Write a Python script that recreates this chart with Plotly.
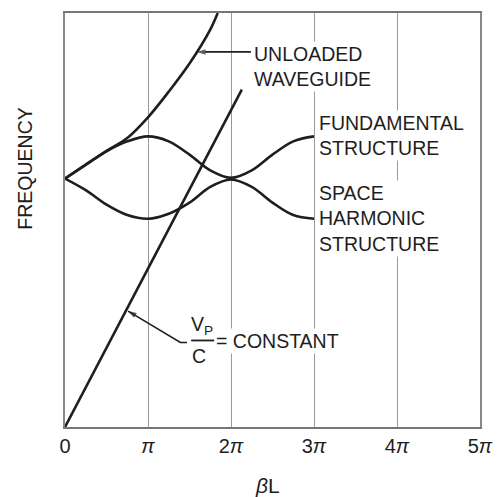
import plotly.graph_objects as go

# ---- data (x in units of pi, y = frequency, arbitrary units) ----
beta_pi = [0, 0.25, 0.5, 0.75, 1.0, 1.25, 1.5, 1.75, 2.0, 2.25, 2.5, 2.75, 3.0]
fund_freq = [6.0, 6.33, 6.66, 6.90, 7.02, 6.90, 6.58, 6.2, 6.02, 6.2, 6.58, 6.90, 7.02]
harm_freq = [6.0, 5.72, 5.37, 5.12, 5.03, 5.15, 5.42, 5.8, 5.98, 5.8, 5.42, 5.12, 5.03]

wg_beta = [0, 0.25, 0.5, 0.75, 1.0, 1.25, 1.5, 1.75, 1.84]
wg_freq = [6.0, 6.34, 6.67, 6.98, 7.48, 8.1, 8.78, 9.6, 10.0]

vp_beta = [0, 2.13]
vp_freq = [0, 8.15]

tick_vals = [0, 1, 2, 3, 4, 5]
tick_text = ["0", "<i>π</i>", "2<i>π</i>", "3<i>π</i>", "4<i>π</i>", "5<i>π</i>"]

# leader lines (label end -> point on curve)
wg_leader_x = [2.24, 1.59]
wg_leader_y = [9.06, 9.06]
vp_leader_x = [1.47, 1.39, 0.76]
vp_leader_y = [2.04, 2.04, 2.80]

FONT = "Liberation Sans, Arial, sans-serif"
INK = "#1e1e1e"
FS = 19.5

fig = go.Figure()
line_style = dict(color=INK, width=2.6)
fig.add_trace(go.Scatter(x=beta_pi, y=fund_freq, mode="lines", line=dict(shape="spline", **line_style), name="Fundamental"))
fig.add_trace(go.Scatter(x=beta_pi, y=harm_freq, mode="lines", line=dict(shape="spline", **line_style), name="Space harmonic"))
fig.add_trace(go.Scatter(x=wg_beta, y=wg_freq, mode="lines", line=dict(shape="spline", **line_style), name="Unloaded waveguide"))
fig.add_trace(go.Scatter(x=vp_beta, y=vp_freq, mode="lines", line=line_style, name="Vp/C"))

# leader lines with arrowheads
for lx, ly in [(wg_leader_x, wg_leader_y), (vp_leader_x, vp_leader_y)]:
    n = len(lx)
    fig.add_trace(go.Scatter(
        x=lx, y=ly, mode="lines+markers",
        line=dict(color=INK, width=1.6),
        marker=dict(symbol="arrow", angleref="previous", size=[0] * (n - 1) + [9], color=INK,
                    line=dict(width=0)),
        hoverinfo="skip",
    ))

ann_font = dict(family=FONT, size=FS, color=INK)
annotations = [
    dict(x=2.25, y=8.71, text="UNLOADED<br>WAVEGUIDE", showarrow=False, xanchor="left", yanchor="middle",
         align="left", font=ann_font, bgcolor="white"),
    dict(x=3.04, y=7.03, text="FUNDAMENTAL<br>STRUCTURE", showarrow=False, xanchor="left", yanchor="middle",
         align="left", font=ann_font, bgcolor="white"),
    dict(x=3.04, y=5.04, text="SPACE<br>HARMONIC<br>STRUCTURE", showarrow=False, xanchor="left", yanchor="middle",
         align="left", font=ann_font, bgcolor="white"),
    dict(x=1.651, y=2.45, text="V<sub>P</sub>", showarrow=False, xanchor="center", yanchor="middle",
         font=ann_font, bgcolor="white", borderpad=0),
    dict(x=1.615, y=1.72, text="C", showarrow=False, xanchor="center", yanchor="middle",
         font=ann_font, bgcolor="white", borderpad=0),
    dict(x=1.80, y=2.08, text="= CONSTANT", showarrow=False, xanchor="left", yanchor="middle",
         font=ann_font, bgcolor="white"),
    # axis titles
    dict(xref="paper", yref="paper", x=-0.095, y=0.623, text="FREQUENCY", textangle=-90, showarrow=False,
         xanchor="center", yanchor="middle", font=ann_font),
    dict(xref="paper", yref="paper", x=0.489, y=-0.142, text="<i>β</i>L", showarrow=False,
         xanchor="center", yanchor="middle", font=dict(family=FONT, size=21, color=INK)),
]

shapes = [
    dict(type="line", xref="x", yref="y", x0=1.52, y0=2.09, x1=1.80, y1=2.09, line=dict(color=INK, width=1.8)),
]

fig.update_layout(
    width=504, height=497,
    margin=dict(l=65, r=18, t=11, b=70),
    paper_bgcolor="white", plot_bgcolor="white",
    showlegend=False,
    font=dict(family=FONT, color=INK),
    annotations=annotations,
    shapes=shapes,
    xaxis=dict(range=[0, 5], tickvals=tick_vals, ticktext=tick_text, showgrid=True,
               gridcolor="#9a9a9a", gridwidth=1.4, zeroline=False, showline=True, linecolor="#777777",
               linewidth=1.8, mirror=True, ticks="", tickfont=dict(family=FONT, size=20, color=INK),
               fixedrange=True),
    yaxis=dict(range=[0, 10], showgrid=False, zeroline=False, showticklabels=False, ticks="",
               showline=True, linecolor="#888888", linewidth=1.6, mirror=True, fixedrange=True),
)

fig.write_html("out.html")
